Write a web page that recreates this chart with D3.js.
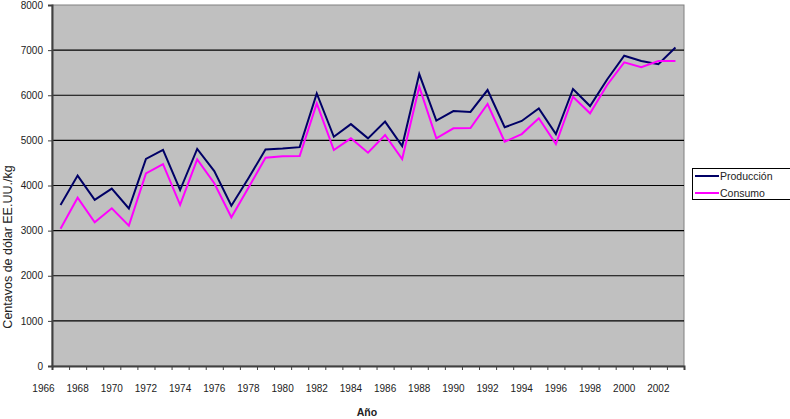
<!DOCTYPE html>
<html>
<head>
<meta charset="utf-8">
<script src="https://cdn.jsdelivr.net/npm/d3@7"></script>
<style>
  body { margin: 0; background: #fff; }
  svg { display: block; font-family: "Liberation Sans", Arial, sans-serif; }
</style>
</head>
<body>
<svg width="790" height="419"></svg>
<script>
// Years and series (centavos de dólar EE.UU./kg)
const years = d3.range(1967, 2004);
const produccion = [3570, 4220, 3680, 3930, 3490, 4590, 4790, 3900, 4810, 4320,
  3550, 4160, 4800, 4820, 4850, 6040, 5080, 5360, 5045, 5415,
  4875, 6470, 5440, 5650, 5630, 6116, 5290, 5430, 5710, 5140,
  6140, 5760, 6350, 6877, 6760, 6690, 7060];
const consumo = [3040, 3730, 3185, 3495, 3110, 4270, 4475, 3570, 4580, 4050,
  3295, 3950, 4616, 4650, 4655, 5820, 4787, 5045, 4727, 5120,
  4587, 6190, 5045, 5267, 5275, 5806, 4970, 5140, 5490, 4920,
  5968, 5600, 6227, 6730, 6620, 6760, 6760];
const yTicks = [0, 1000, 2000, 3000, 4000, 5000, 6000, 7000, 8000];
const xLabels = d3.range(1966, 2004, 2);

const series = [
  { name: 'Producción', values: produccion, color: '#000066' },
  { name: 'Consumo', values: consumo, color: '#ff00ff' }
];

const svg = d3.select('svg');
const plot = { left: 52, right: 684, top: 5, bottom: 366 };

const x = d3.scaleLinear().domain([1966.5, 2003.5]).range([plot.left, plot.right]);
const y = d3.scaleLinear().domain([0, 8000]).range([plot.bottom, plot.top]);

// plot area
svg.append('rect')
  .attr('x', plot.left).attr('y', plot.top)
  .attr('width', plot.right - plot.left).attr('height', plot.bottom - plot.top)
  .attr('fill', '#c0c0c0')
  .attr('stroke', '#808080')
  .attr('stroke-width', 1);

// gridlines
svg.append('g')
  .selectAll('line')
  .data(yTicks.slice(1, -1))
  .enter().append('line')
  .attr('x1', plot.left).attr('x2', plot.right)
  .attr('y1', d => y(d)).attr('y2', d => y(d))
  .attr('stroke', '#000')
  .attr('stroke-width', 1.2);

// y axis
const yAxis = svg.append('g')
  .attr('transform', `translate(${plot.left},0)`)
  .call(d3.axisLeft(y).tickValues(yTicks).tickSize(4).tickPadding(5).tickFormat(d3.format('d')));
yAxis.select('.domain').attr('stroke', '#404040').attr('stroke-width', 2);
yAxis.selectAll('.tick line').attr('stroke', '#404040');
yAxis.selectAll('text').attr('font-size', 10).attr('fill', '#222').attr('font-family', null);

// x axis: ticks on category boundaries, labels every 2 years
const xAxis = svg.append('g')
  .attr('transform', `translate(0,${plot.bottom})`)
  .call(d3.axisBottom(x).tickValues(d3.range(1966.5, 2004, 1)).tickSize(4).tickFormat(''));
xAxis.select('.domain').attr('stroke', '#404040').attr('stroke-width', 2);
xAxis.selectAll('.tick line').attr('stroke', '#404040');

svg.append('g')
  .selectAll('text')
  .data(xLabels)
  .enter().append('text')
  .attr('x', d => x(d))
  .attr('y', 392)
  .attr('text-anchor', 'middle')
  .attr('font-size', 10)
  .attr('fill', '#222')
  .text(d => d);

// lines
const line = d3.line()
  .x((d, i) => x(years[i]))
  .y(d => y(d));

svg.append('g')
  .selectAll('path')
  .data(series)
  .enter().append('path')
  .attr('d', d => line(d.values))
  .attr('fill', 'none')
  .attr('stroke', d => d.color)
  .attr('stroke-width', 2)
  .attr('stroke-linejoin', 'miter');

// axis titles
svg.append('text')
  .attr('x', 367).attr('y', 416)
  .attr('text-anchor', 'middle')
  .attr('font-size', 10.5)
  .attr('font-weight', 'bold')
  .attr('fill', '#222')
  .text('Año');

svg.append('text')
  .attr('transform', 'translate(12,247) rotate(-90)')
  .attr('text-anchor', 'middle')
  .attr('font-size', 12.5)
  .attr('fill', '#222')
  .text('Centavos de dólar EE.UU./kg');

// legend
const legend = svg.append('g');
legend.append('rect')
  .attr('x', 692.5).attr('y', 168.5)
  .attr('width', 100).attr('height', 31)
  .attr('fill', '#fff')
  .attr('stroke', '#000');

const item = legend.selectAll('.item')
  .data(series)
  .enter().append('g')
  .attr('class', 'item')
  .attr('transform', (d, i) => `translate(0,${176 + i * 17})`);

item.append('line')
  .attr('x1', 695).attr('x2', 719)
  .attr('stroke', d => d.color)
  .attr('stroke-width', 2);

item.append('text')
  .attr('x', 720).attr('y', 4)
  .attr('font-size', 10.5)
  .attr('fill', '#222')
  .text(d => d.name);
</script>
</body>
</html>
